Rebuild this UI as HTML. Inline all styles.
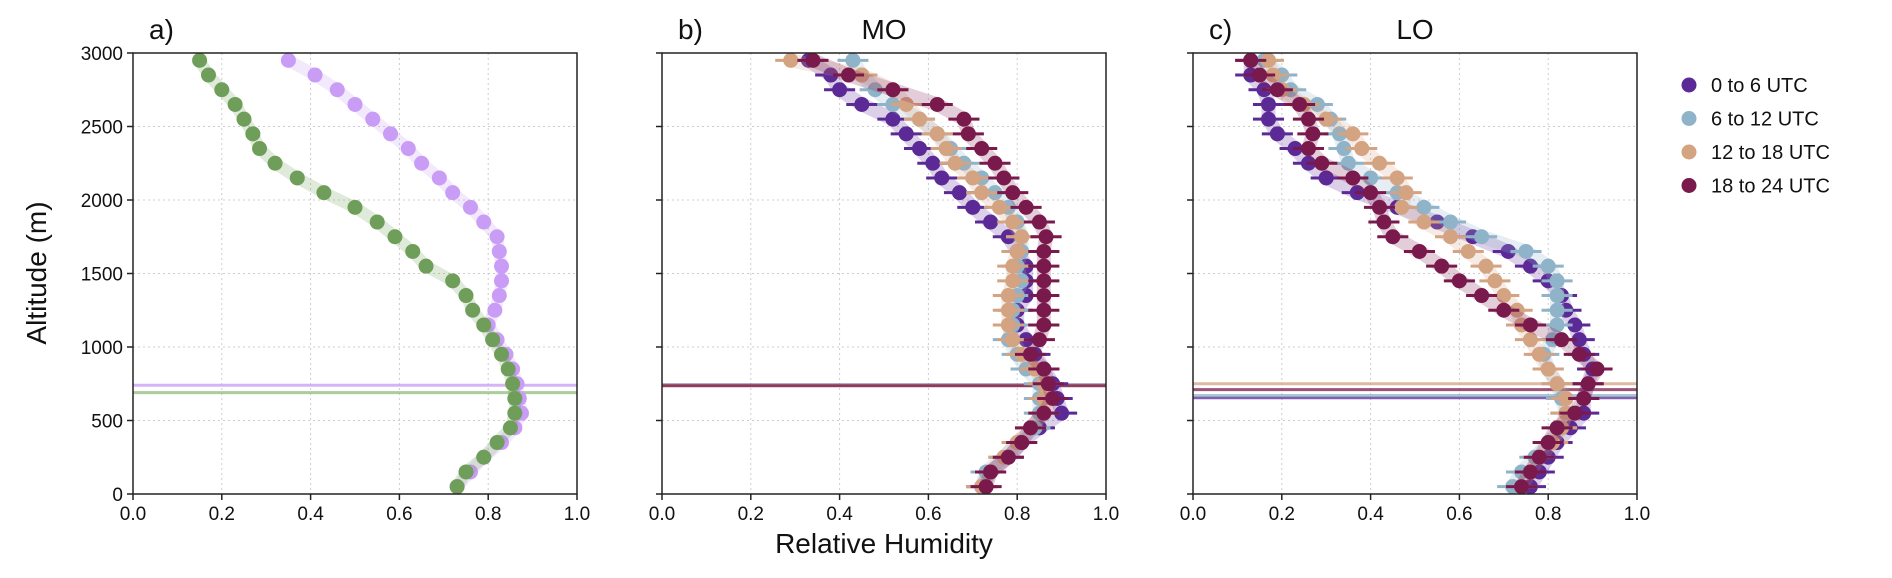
<!DOCTYPE html>
<html><head><meta charset="utf-8">
<style>
body{margin:0;background:#fff;}
svg{display:block;font-family:"Liberation Sans","DejaVu Sans",sans-serif;}
</style></head>
<body>
<svg id="chart" width="1892" height="578" viewBox="0 0 1892 578" xmlns="http://www.w3.org/2000/svg"></svg>
<script>
const altitudes=[50,150,250,350,450,550,650,750,850,950,1050,1150,1250,1350,1450,1550,1650,1750,1850,1950,2050,2150,2250,2350,2450,2550,2650,2750,2850,2950];
const xTicks=[0.0,0.2,0.4,0.6,0.8,1.0];
const yTicks=[0,500,1000,1500,2000,2500,3000];
const legendLabels=["0 to 6 UTC","6 to 12 UTC","12 to 18 UTC","18 to 24 UTC"];
// panel a
const aGreen=[0.73,0.75,0.79,0.82,0.85,0.86,0.86,0.855,0.845,0.83,0.81,0.79,0.765,0.75,0.72,0.66,0.63,0.59,0.55,0.50,0.43,0.37,0.32,0.285,0.27,0.25,0.23,0.20,0.17,0.15];
const aPurple=[0.73,0.76,0.79,0.83,0.86,0.875,0.87,0.865,0.855,0.84,0.82,0.80,0.815,0.825,0.83,0.83,0.825,0.82,0.79,0.76,0.72,0.69,0.65,0.62,0.58,0.54,0.50,0.46,0.41,0.35];
const aBL=[740,690];
// panel b (MO)
const bP=[0.72,0.74,0.78,0.81,0.85,0.90,0.89,0.88,0.86,0.84,0.82,0.80,0.80,0.82,0.82,0.82,0.80,0.78,0.74,0.70,0.67,0.63,0.61,0.58,0.55,0.52,0.45,0.40,0.38,0.33];
const bB=[0.72,0.73,0.77,0.80,0.84,0.85,0.85,0.85,0.82,0.80,0.78,0.79,0.79,0.80,0.81,0.80,0.81,0.81,0.80,0.78,0.75,0.72,0.68,0.65,0.62,0.58,0.52,0.48,0.45,0.43];
const bT=[0.72,0.74,0.77,0.80,0.83,0.86,0.86,0.86,0.84,0.81,0.79,0.78,0.78,0.78,0.79,0.79,0.80,0.81,0.79,0.76,0.72,0.70,0.66,0.64,0.62,0.58,0.55,0.52,0.45,0.29];
const bM=[0.73,0.74,0.78,0.81,0.83,0.86,0.88,0.87,0.86,0.83,0.85,0.86,0.86,0.86,0.86,0.86,0.86,0.865,0.85,0.82,0.79,0.77,0.75,0.72,0.69,0.68,0.62,0.52,0.42,0.34];
const bBL=[742,740,738,736];
// panel c (LO)
const cP=[0.76,0.78,0.80,0.82,0.85,0.88,0.88,0.89,0.90,0.88,0.87,0.86,0.84,0.83,0.80,0.76,0.71,0.63,0.55,0.46,0.37,0.30,0.26,0.23,0.19,0.17,0.17,0.16,0.13,0.13];
const cB=[0.72,0.74,0.77,0.80,0.83,0.84,0.83,0.82,0.80,0.79,0.81,0.82,0.82,0.82,0.82,0.80,0.75,0.65,0.58,0.52,0.46,0.40,0.35,0.34,0.33,0.31,0.28,0.22,0.20,0.16];
const cT=[0.74,0.76,0.78,0.81,0.83,0.84,0.84,0.82,0.80,0.78,0.76,0.74,0.73,0.70,0.68,0.66,0.62,0.58,0.52,0.47,0.48,0.46,0.42,0.38,0.36,0.30,0.25,0.20,0.18,0.17];
const cM=[0.74,0.76,0.78,0.80,0.82,0.86,0.88,0.89,0.91,0.87,0.83,0.76,0.70,0.65,0.60,0.56,0.51,0.45,0.43,0.42,0.40,0.36,0.29,0.26,0.27,0.26,0.24,0.19,0.15,0.13];
const cBL=[655,670,710,750];

const colors=["#5b2a96","#8fb3c8","#d4a382","#7a1a4c"];
const svg=document.getElementById('chart');
const NS="http://www.w3.org/2000/svg";
function mk(tag,attrs,parent){const e=document.createElementNS(NS,tag);for(const k in attrs)e.setAttribute(k,attrs[k]);(parent||svg).appendChild(e);return e;}
const top0=53,bot0=494,W=444;
function yS(v){return bot0-(v/3000)*(bot0-top0);}

function panel(left,name,label,title,series,cols,baselines,blCols,errs,r){
  const g=mk('g',{});
  
  
  const xS=v=>left+v*W;
  // grid
  xTicks.forEach(t=>{const l=mk('line',{x1:xS(t),x2:xS(t),y1:top0,y2:bot0,stroke:'#ccc','stroke-dasharray':'2,3','stroke-width':1},g);});
  yTicks.forEach(t=>{const l=mk('line',{x1:left,x2:left+W,y1:yS(t),y2:yS(t),stroke:'#ccc','stroke-dasharray':'2,3','stroke-width':1},g);});
  // baselines
  baselines.forEach((b,i)=>{const l=mk('line',{x1:left,x2:left+W,y1:yS(b),y2:yS(b),stroke:blCols[i],'stroke-width':3,opacity:0.75},g);});
  // series
  series.forEach((s,si)=>{
    const c=cols[si];
    const pts=s.map((v,i)=>xS(v)+','+yS(altitudes[i])).join(' ');
    const band=mk('polyline',{points:pts,fill:'none',stroke:c,'stroke-width':errs?14:12,'stroke-linejoin':'round','stroke-linecap':'round',opacity:0.22},g);
    
    
    s.forEach((v,i)=>{
      if(errs){const e=mk('line',{x1:xS(v-0.035),x2:xS(v+0.035),y1:yS(altitudes[i]),y2:yS(altitudes[i]),stroke:c,'stroke-width':3},g);}
      const p=mk('circle',{cx:xS(v),cy:yS(altitudes[i]),r:r,fill:c},g);
      
      
    });
  });
  // frame
  const f=mk('rect',{x:left,y:top0,width:W,height:bot0-top0,fill:'none',stroke:'#222','stroke-width':1.5},g);
  
  xTicks.forEach(t=>{mk('line',{x1:xS(t),x2:xS(t),y1:bot0,y2:bot0+6,stroke:'#222','stroke-width':1.5},g);
    const tx=mk('text',{x:xS(t),y:bot0+26,'text-anchor':'middle','font-size':19,fill:'#111'},g);tx.textContent=t.toFixed(1);
    });
  yTicks.forEach(t=>{mk('line',{x1:left-6,x2:left,y1:yS(t),y2:yS(t),stroke:'#222','stroke-width':1.5},g);});
  const lt=mk('text',{x:left+16,y:39,'font-size':28,fill:'#111'},g);lt.textContent=label;
  
  if(title){const tt=mk('text',{x:left+W/2,y:39,'text-anchor':'middle','font-size':28,fill:'#111'},g);tt.textContent=title;
    }
}
panel(133,'panel-a','a)','',[aPurple,aGreen],['#c99cf5','#6f9e5a'],aBL,['#c99cf5','#8fbb7a'],false,7.5);
panel(662,'panel-b-mo','b)','MO',[bP,bB,bT,bM],colors,bBL,colors,true,7.5);
panel(1193,'panel-c-lo','c)','LO',[cP,cB,cT,cM],colors,cBL,[colors[0],colors[1],colors[3],colors[2]],true,7.5);
// y tick labels on panel a
yTicks.forEach(t=>{const tx=mk('text',{x:123,y:yS(t)+7,'text-anchor':'end','font-size':19,fill:'#111'});tx.textContent=t;
  });
const yt=mk('text',{x:46,y:273,'text-anchor':'middle','font-size':28,fill:'#111',transform:'rotate(-90 46 273)'});
yt.textContent='Altitude (m)';

const xt=mk('text',{x:884,y:553,'text-anchor':'middle','font-size':28,fill:'#111'});
xt.textContent='Relative Humidity';

// legend
legendLabels.forEach((l,i)=>{
  const y=85+i*33.5;
  const c=mk('circle',{cx:1689,cy:y,r:7.5,fill:colors[i]});
  
  const t=mk('text',{x:1711,y:y+7,'font-size':20,fill:'#111'});t.textContent=l;
  
});
</script>
</body></html>
